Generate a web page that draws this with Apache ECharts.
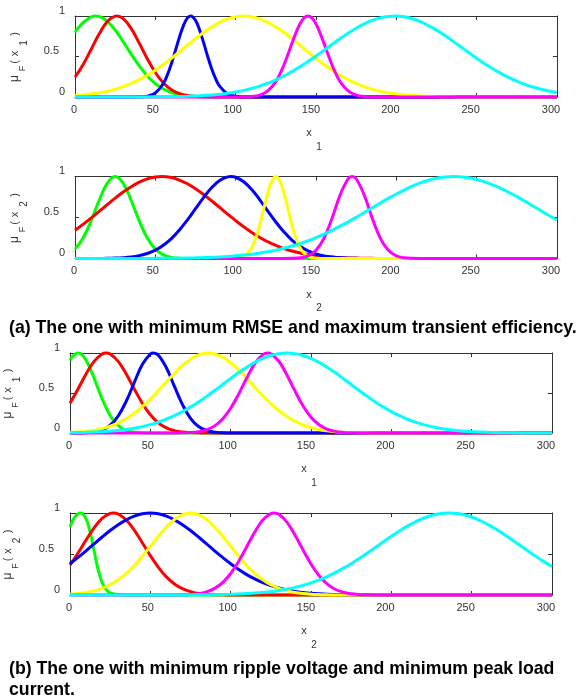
<!DOCTYPE html>
<html><head><meta charset="utf-8">
<script src="https://cdn.jsdelivr.net/npm/echarts@6/dist/echarts.min.js"></script>
<style>html,body{margin:0;padding:0;background:#fff}#c{width:579px;height:700px}</style>
</head><body><div id="c"></div>
<script>
// ---- tick labels ----
const xTicks = [0, 50, 100, 150, 200, 250, 300];
const yTicks = [0, 0.5, 1];

// ---- (a) x1 membership functions: [x, mu] ----
const a1Green = [[0,.801],[5,.919],[10,.988],[13,1],[15,.995],[20,.938],[25,.827],[30,.684],[35,.529],[40,.383],[45,.260],[50,.165],[55,.098],[60,.055],[65,.029],[70,.014],[75,.006],[80,.003],[85,.001],[90,0],[95,0],[300,0]];
const a1Red = [[0,.245],[5,.399],[10,.587],[15,.777],[20,.928],[25,.998],[26,1],[30,.967],[35,.845],[40,.665],[45,.472],[50,.302],[55,.174],[60,.090],[65,.042],[70,.018],[75,.007],[80,.002],[85,0],[90,0],[300,0]];
const a1Blue = [[0,0],[30,0],[35,0],[40,.002],[45,.011],[50,.050],[55,.168],[57.5,.273],[60,.411],[62.5,.573],[65,.739],[67.5,.882],[70,.976],[72,1],[75,.946],[77.5,.830],[80,.674],[82.5,.506],[85,.352],[87.5,.227],[90,.135],[95,.038],[100,.008],[105,.001],[110,0],[115,0],[300,0]];
const a1Yellow = [[0,.018],[5,.026],[10,.037],[15,.052],[20,.071],[25,.097],[30,.128],[35,.167],[40,.214],[45,.268],[50,.331],[55,.401],[60,.477],[65,.558],[70,.639],[75,.720],[80,.796],[85,.864],[90,.921],[95,.964],[100,.991],[105,1],[110,.991],[115,.964],[120,.921],[125,.864],[130,.796],[135,.720],[140,.639],[145,.558],[150,.477],[155,.401],[160,.331],[165,.268],[170,.214],[175,.167],[180,.128],[185,.097],[190,.071],[195,.052],[200,.037],[205,.026],[210,.018],[215,.012],[220,.008],[225,.005],[230,.003],[235,.002],[240,.001],[245,0],[250,0],[300,0]];
const a1Magenta = [[0,0],[95,0],[100,0],[105,.001],[110,.006],[115,.024],[120,.076],[125,.191],[127.5,.282],[130,.395],[132.5,.524],[135,.662],[137.5,.792],[140,.902],[142.5,.975],[145,1],[147.5,.975],[150,.902],[152.5,.792],[155,.662],[157.5,.524],[160,.395],[162.5,.282],[165,.191],[170,.076],[175,.024],[180,.006],[185,.001],[190,0],[195,0],[300,0]];
const a1Cyan = [[0,0],[20,0],[40,.001],[50,.002],[60,.004],[65,.006],[70,.009],[75,.013],[80,.018],[85,.025],[90,.034],[95,.047],[100,.062],[105,.082],[110,.106],[115,.135],[120,.171],[125,.212],[130,.259],[135,.313],[140,.373],[145,.438],[150,.506],[155,.578],[160,.650],[165,.721],[170,.788],[175,.849],[180,.903],[185,.946],[190,.977],[195,.995],[200,1],[205,.990],[210,.966],[215,.930],[220,.882],[225,.826],[230,.762],[235,.693],[240,.621],[245,.549],[250,.478],[255,.411],[260,.348],[265,.291],[270,.240],[275,.195],[280,.156],[285,.123],[290,.096],[295,.073],[300,.056]];

// ---- (a) x2 ----
const a2Green = [[0,.114],[5,.249],[10,.458],[15,.707],[20,.917],[25,1],[30,.917],[35,.707],[40,.458],[45,.249],[50,.114],[55,.044],[60,.014],[65,.004],[70,.001],[75,0],[80,0],[300,0]];
const a2Red = [[0,.345],[5,.416],[10,.493],[15,.574],[20,.656],[25,.736],[30,.810],[35,.876],[40,.931],[45,.971],[50,.994],[54,1],[60,.987],[65,.957],[70,.911],[75,.851],[80,.781],[85,.704],[90,.623],[95,.541],[100,.462],[105,.387],[110,.318],[115,.257],[120,.204],[125,.159],[130,.121],[135,.091],[140,.067],[145,.049],[150,.035],[155,.024],[160,.017],[165,.011],[170,.007],[175,.005],[180,.003],[185,.002],[190,.001],[195,0],[200,0],[300,0]];
const a2Blue = [[0,0],[10,0],[15,.001],[20,.002],[25,.005],[30,.010],[35,.019],[40,.035],[45,.061],[50,.102],[55,.162],[60,.243],[65,.347],[70,.471],[75,.607],[80,.742],[85,.862],[90,.951],[95,.996],[97,1],[100,.991],[105,.936],[110,.840],[115,.716],[120,.579],[125,.445],[130,.325],[135,.225],[140,.148],[145,.093],[150,.055],[155,.031],[160,.017],[165,.008],[170,.004],[175,.002],[180,0],[185,0],[300,0]];
const a2Yellow = [[0,0],[90,0],[95,0],[100,.004],[102.5,.011],[105,.029],[107.5,.066],[110,.135],[112.5,.249],[115,.411],[117.5,.607],[120,.801],[122.5,.946],[125,1],[127.5,.946],[130,.801],[132.5,.607],[135,.411],[137.5,.249],[140,.135],[142.5,.066],[145,.029],[147.5,.011],[150,.004],[155,0],[160,0],[300,0]];
const a2Magenta = [[0,0],[125,0],[130,0],[135,.002],[140,.008],[145,.032],[150,.101],[155,.249],[160,.492],[165,.775],[170,.972],[172.5,1],[175,.972],[180,.775],[185,.492],[190,.249],[195,.101],[200,.032],[205,.008],[210,.002],[215,0],[220,0],[300,0]];
const a2Cyan = [[0,0],[20,0],[40,.001],[50,.002],[60,.003],[70,.006],[75,.008],[80,.011],[85,.015],[90,.019],[95,.025],[100,.033],[105,.042],[110,.053],[115,.067],[120,.083],[125,.102],[130,.125],[135,.152],[140,.182],[145,.216],[150,.255],[155,.297],[160,.344],[165,.394],[170,.447],[175,.503],[180,.560],[185,.618],[190,.676],[195,.733],[200,.787],[205,.837],[210,.882],[215,.922],[220,.954],[225,.978],[230,.993],[235,1],[240,.997],[245,.985],[250,.964],[255,.935],[260,.899],[265,.856],[270,.808],[275,.755],[280,.699],[285,.641],[290,.583],[295,.525],[300,.469]];

// ---- (b) x1 ----
const b1Green = [[0,.910],[2.5,.977],[5,1],[7.5,.977],[10,.910],[12.5,.808],[15,.685],[17.5,.554],[20,.427],[22.5,.314],[25,.220],[27.5,.147],[30,.094],[32.5,.057],[35,.033],[40,.010],[45,.002],[50,0],[55,0],[300,0]];
const b1Red = [[0,.372],[5,.550],[10,.737],[15,.896],[20,.988],[22.5,1],[25,.988],[30,.896],[35,.737],[40,.550],[45,.372],[50,.228],[55,.127],[60,.064],[65,.029],[70,.012],[75,.005],[80,.002],[85,0],[90,0],[300,0]];
const b1Blue = [[0,0],[5,0],[10,.004],[15,.013],[20,.038],[25,.097],[30,.213],[35,.397],[40,.631],[45,.855],[50,.987],[52,1],[55,.972],[60,.815],[65,.582],[70,.355],[75,.184],[80,.081],[85,.031],[90,.010],[95,.003],[100,0],[105,0],[300,0]];
const b1Yellow = [[0,.008],[5,.013],[10,.022],[15,.036],[20,.056],[25,.085],[30,.126],[35,.179],[40,.247],[45,.329],[50,.424],[55,.530],[60,.640],[65,.747],[70,.844],[75,.923],[80,.976],[86,1],[90,.989],[95,.948],[100,.878],[105,.788],[110,.683],[115,.573],[120,.466],[125,.366],[130,.278],[135,.205],[140,.145],[145,.100],[150,.067],[155,.043],[160,.027],[165,.016],[170,.009],[175,.005],[180,.003],[185,.002],[190,.001],[195,0],[200,0],[300,0]];
const b1Magenta = [[0,0],[60,0],[65,.001],[70,.002],[75,.006],[80,.016],[85,.040],[90,.089],[95,.175],[100,.309],[105,.487],[110,.687],[115,.867],[120,.980],[123,1],[125,.991],[130,.897],[135,.726],[140,.526],[145,.341],[150,.198],[155,.103],[160,.048],[165,.020],[170,.007],[175,.002],[180,0],[185,0],[300,0]];
const b1Cyan = [[0,.003],[10,.008],[20,.016],[25,.023],[30,.032],[35,.044],[40,.060],[45,.080],[50,.105],[55,.135],[60,.172],[65,.216],[70,.267],[75,.325],[80,.389],[85,.458],[90,.531],[95,.607],[100,.682],[105,.755],[110,.823],[115,.882],[120,.932],[125,.969],[130,.992],[135,1],[140,.992],[145,.969],[150,.932],[155,.882],[160,.823],[165,.755],[170,.682],[175,.607],[180,.531],[185,.458],[190,.389],[195,.325],[200,.267],[205,.216],[210,.172],[215,.135],[220,.105],[225,.080],[230,.060],[235,.044],[240,.032],[245,.023],[250,.016],[260,.008],[270,.003],[280,.001],[290,0],[300,0]];

// ---- (b) x2 ----
const b2Green = [[0,.83],[2.5,.94],[5,.99],[6.5,1],[7.5,.995],[10,.93],[12.5,.77],[15,.54],[17.5,.31],[20,.15],[22.5,.065],[25,.025],[30,.005],[35,0],[40,0],[300,0]];
const b2Red = [[0,.364],[5,.512],[10,.670],[15,.819],[20,.934],[25,.994],[27,1],[30,.988],[35,.915],[40,.791],[45,.638],[50,.481],[55,.338],[60,.221],[65,.135],[70,.077],[75,.041],[80,.020],[85,.009],[90,.004],[95,.002],[100,0],[105,0],[300,0]];
const b2Blue = [[0,.381],[5,.458],[10,.539],[15,.623],[20,.707],[25,.786],[30,.857],[35,.917],[40,.962],[45,.990],[50,1],[55,.990],[60,.962],[65,.917],[70,.857],[75,.786],[80,.707],[85,.623],[90,.539],[95,.458],[100,.381],[105,.311],[110,.249],[115,.196],[120,.151],[125,.114],[130,.085],[135,.062],[140,.044],[145,.031],[150,.021],[155,.014],[160,.009],[165,.006],[170,.004],[175,.002],[180,.001],[185,0],[190,0],[300,0]];
const b2Yellow = [[0,.009],[5,.017],[10,.030],[15,.050],[20,.080],[25,.125],[30,.185],[35,.264],[40,.360],[45,.473],[50,.594],[55,.717],[60,.829],[65,.920],[70,.979],[75,1],[80,.979],[85,.920],[90,.829],[95,.717],[100,.594],[105,.473],[110,.360],[115,.264],[120,.185],[125,.125],[130,.080],[135,.050],[140,.030],[145,.017],[150,.009],[155,.005],[160,.002],[165,.001],[170,0],[175,0],[300,0]];
const b2Magenta = [[0,0],[60,0],[65,.001],[70,.003],[75,.007],[80,.017],[85,.039],[90,.081],[95,.152],[100,.262],[105,.411],[110,.588],[115,.768],[120,.914],[125,.993],[127,1],[130,.984],[135,.889],[140,.733],[145,.552],[150,.378],[155,.237],[160,.135],[165,.070],[170,.034],[175,.015],[180,.006],[185,.002],[190,0],[195,0],[300,0]];
const b2Cyan = [[0,0],[40,0],[60,0],[80,.002],[90,.004],[100,.008],[105,.012],[110,.017],[115,.023],[120,.031],[125,.041],[130,.055],[135,.072],[140,.093],[145,.118],[150,.148],[155,.184],[160,.225],[165,.272],[170,.325],[175,.382],[180,.445],[185,.511],[190,.579],[195,.648],[200,.716],[205,.780],[210,.840],[215,.892],[220,.936],[225,.969],[230,.991],[235,1],[240,.996],[245,.979],[250,.951],[255,.911],[260,.862],[265,.805],[270,.742],[275,.675],[280,.607],[285,.538],[290,.471],[295,.407],[300,.347]];

const panelSeries = [
  [a1Green, a1Red, a1Blue, a1Yellow, a1Magenta, a1Cyan],
  [a2Green, a2Red, a2Blue, a2Yellow, a2Magenta, a2Cyan],
  [b1Green, b1Red, b1Blue, b1Yellow, b1Magenta, b1Cyan],
  [b2Green, b2Red, b2Blue, b2Yellow, b2Magenta, b2Cyan]
];
const varIndex = ['1', '2', '1', '2'];
const titleA = '(a) The one with minimum RMSE and maximum transient efficiency.';
const titleB1 = '(b) The one with minimum ripple voltage and minimum peak load';
const titleB2 = 'current.';

// ---- styling / layout ----
const FONT = '"Liberation Sans", Arial, Helvetica, sans-serif';
const AX = '#333333';
const colors = ['#00ff00', '#ff0000', '#0000ff', '#ffff00', '#ff00ff', '#00ffff'];
const layout = [
  {left: 75, width: 482, top: 16, height: 81, mainX: 15, subX: 24},
  {left: 75, width: 482, top: 176.5, height: 82, mainX: 15, subX: 24},
  {left: 70, width: 482, top: 353, height: 80, mainX: 8, subX: 17},
  {left: 70, width: 482, top: 513, height: 82, mainX: 8, subX: 17}
];
const xShift = [1, 2.5, 3, 5, 6, 6, 6];
const richX = {};
xShift.forEach((o, i) => { richX['t' + i] = {padding: [0, 2 * o, 0, 0], fontSize: 11, color: AX, fontFamily: FONT}; });
const richY = {
  n: {fontSize: 11, color: AX, fontFamily: FONT, padding: [0, 0, 0, 0]},
  h: {fontSize: 11, color: AX, fontFamily: FONT, padding: [0, 6, 0, 0]}
};

const grids = [], xAxes = [], yAxes = [], series = [], graphics = [];
layout.forEach((L, p) => {
  grids.push({left: L.left, top: L.top, width: L.width, height: L.height, containLabel: false});
  const tick = {show: true, inside: true, length: 4, lineStyle: {color: AX, width: 1}};
  const line = {show: true, onZero: false, lineStyle: {color: AX, width: 1}};
  xAxes.push({gridIndex: p, type: 'value', min: 0, max: 300, interval: 50, position: 'bottom',
    axisLine: line, axisTick: tick, splitLine: {show: false},
    axisLabel: {margin: 7, formatter: v => '{t' + xTicks.indexOf(v) + '|' + v + '}', rich: richX}});
  xAxes.push({gridIndex: p, type: 'value', min: 0, max: 300, interval: 50, position: 'top',
    axisLine: line, axisTick: tick, splitLine: {show: false}, axisLabel: {show: false}});
  yAxes.push({gridIndex: p, type: 'value', min: 0, max: 1, interval: 0.5, position: 'left',
    axisLine: line, axisTick: tick, splitLine: {show: false},
    axisLabel: {margin: 10, verticalAlign: 'bottom',
      formatter: v => (v === 0.5 ? '{h|' : '{n|') + v + '}', rich: richY}});
  yAxes.push({gridIndex: p, type: 'value', min: 0, max: 1, interval: 0.5, position: 'right',
    axisLine: line, axisTick: tick, splitLine: {show: false}, axisLabel: {show: false}});
  panelSeries[p].forEach((d, i) => {
    series.push({type: 'line', xAxisIndex: 2 * p, yAxisIndex: 2 * p, data: d,
      showSymbol: false, smooth: 0.4, clip: false, animation: false,
      lineStyle: {color: colors[i], width: 3}, itemStyle: {color: colors[i]}});
  });
  // x-axis name with subscript
  const cx = L.left + L.width / 2;
  const bottom = L.top + L.height;
  const txt = (text, x, y, size, rot) => ({type: 'text', x: x, y: y, rotation: rot || 0,
    style: {text: text, fill: AX, font: size + 'px ' + FONT, fontSize: size, fontFamily: FONT,
      align: 'center', verticalAlign: 'middle', textAlign: 'center', textVerticalAlign: 'middle'}});
  graphics.push(txt('x', cx - 7, bottom + 36, 11));
  graphics.push(txt(varIndex[p], cx + 3, bottom + 50, 10));
  // y-axis name (rotated): μ_F(x_i)
  const cy = L.top + L.height / 2;
  const R = Math.PI / 2;
  graphics.push(txt('\u03bc', L.mainX, cy + 22, 12, R));
  graphics.push(txt('F', L.subX - 1, cy + 12, 9, R));
  graphics.push(txt('(', L.mainX, cy + 5.5, 11, R));
  graphics.push(txt('x', L.mainX, cy - 3, 11, R));
  graphics.push(txt(varIndex[p], L.subX, cy - 13.5, 10, R));
  graphics.push(txt(')', L.mainX, cy - 22.5, 11, R));
});
const titleStyle = t => ({text: t, fill: '#000', font: 'bold 17.7px ' + FONT, fontWeight: 'bold', fontSize: 17.7, fontFamily: FONT,
  align: 'left', verticalAlign: 'middle', textAlign: 'left', textVerticalAlign: 'middle'});
graphics.push({type: 'text', x: 9, y: 328, style: titleStyle(titleA)});
graphics.push({type: 'text', x: 9, y: 669, style: titleStyle(titleB1)});
graphics.push({type: 'text', x: 9, y: 690, style: titleStyle(titleB2)});

const chart = echarts.init(document.getElementById('c'), null, {renderer: 'canvas'});
chart.setOption({
  backgroundColor: '#ffffff',
  animation: false,
  grid: grids,
  xAxis: xAxes,
  yAxis: yAxes,
  series: series,
  graphic: {elements: graphics}
});
</script>
</body></html>
